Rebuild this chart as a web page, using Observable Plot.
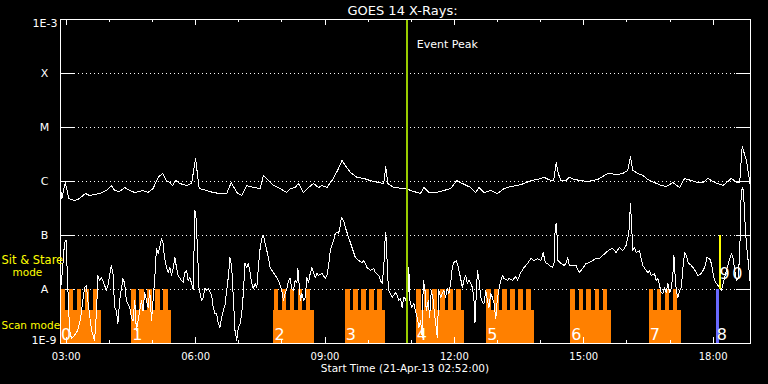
<!DOCTYPE html>
<html>
<head>
<meta charset="utf-8">
<script src="https://cdn.jsdelivr.net/npm/d3@7"></script>
<script src="https://cdn.jsdelivr.net/npm/@observablehq/plot@0.6"></script>
<style>
  html, body { margin: 0; padding: 0; background: #000; }
  #chart { width: 768px; height: 384px; }
</style>
</head>
<body>
<div id="chart"></div>
<script>
// ---------------- data ----------------
const startTime = "2013-04-21T02:52:00Z";
const spanMinutes = 960;
const titleText = "GOES 14 X-Rays:";
const xTitle = "Start Time (21-Apr-13 02:52:00)";
const majorTicks = ["03:00", "06:00", "09:00", "12:00", "15:00", "18:00"];
const minorTicks = ["04:00", "05:00", "07:00", "08:00", "10:00", "11:00", "13:00", "14:00", "16:00", "17:00"];
const classLevels = [1e-8, 1e-7, 1e-6, 1e-5, 1e-4];
const classLabels = ["A", "B", "C", "M", "X"];
const edgeLevels = [1e-3, 1e-9];
const edgeLabels = ["1E-3", "1E-9"];

// GOES long channel (1-8 A), minutes after 02:52 and flux W/m^2
const longT = [0,1.8,6.6,11.6,19.5,24.1,34.9,40.5,54.4,63.8,
70.7,75.3,82.3,89.3,96.3,103.3,114.8,121.8,128.8,135.8,
141.9,147.5,152.1,155.9,160.5,166,175.4,182.4,187.9,193,
203.3,212.5,221.9,231.2,235.8,237.6,245.2,252.1,259.1,268.3,
277.7,282.3,289.3,296.2,303.2,310.2,314.9,319.5,326.5,331.1,
338.1,345.1,352,359,363.8,370.7,377.7,385.5,391.7,396.3,
403.2,412.6,421.8,431.1,442.7,449.7,452.5,455.3,463.6,477.6,
481.4,487,500.9,505.5,512.5,521.8,533.4,542.8,551.1,559.1,
570.7,577.7,582.3,589.2,598.6,607.9,617.1,626.5,635.8,645,
654.4,663.7,673,682.3,686.1,689.7,692.5,696.3,703.3,707.9,
714.8,724.2,733.5,747.5,752.1,761.4,775.4,782.3,789.3,793,
796.3,803.3,810.3,817.2,826.4,835.8,842.8,852.1,861.3,868.3,
877.6,887,894,900.9,910.1,921.8,933.4,940.5,945,948.4,
954.4,959,960];
const longF = [7.41e-7,4.84e-7,9.58e-7,4.84e-7,4.45e-7,4.64e-7,5.99e-7,5.5e-7,5.99e-7,6.81e-7,
8.43e-7,6.81e-7,6.52e-7,7.74e-7,6.81e-7,6.25e-7,6.81e-7,6.25e-7,7.41e-7,1.19e-6,
1.41e-6,1.04e-6,9.58e-7,8.43e-7,1.04e-6,9.18e-7,8.43e-7,9.18e-7,2.67e-6,7.41e-7,
6.81e-7,6.25e-7,5.99e-7,5.99e-7,8.43e-7,9.58e-7,6.25e-7,5.5e-7,8.43e-7,7.74e-7,
7.41e-7,1.29e-6,1.04e-6,8.43e-7,7.74e-7,6.81e-7,6.25e-7,7.41e-7,7.74e-7,9.18e-7,
6.25e-7,7.74e-7,9.18e-7,7.74e-7,8.43e-7,7.74e-7,1.04e-6,1.6e-6,2.45e-6,1.98e-6,
1.47e-6,1.19e-6,1.14e-6,1.04e-6,9.58e-7,9.18e-7,1.9e-6,9.18e-7,7.74e-7,7.41e-7,
7.41e-7,6.81e-7,5.99e-7,7.74e-7,6.25e-7,6.25e-7,6.81e-7,7.41e-7,1.04e-6,9.18e-7,
7.74e-7,6.25e-7,7.74e-7,6.25e-7,6.81e-7,5.99e-7,7.41e-7,8.08e-7,8.43e-7,9.18e-7,
1.04e-6,1.09e-6,1.19e-6,1.04e-6,1.04e-6,2.25e-6,1.41e-6,1.04e-6,1.04e-6,1.19e-6,
1.09e-6,1.04e-6,1e-6,1.09e-6,1.19e-6,1.41e-6,1.35e-6,1.41e-6,1.6e-6,2.9e-6,
1.6e-6,1.41e-6,1.29e-6,1.09e-6,9.58e-7,8.43e-7,8.08e-7,9.58e-7,7.74e-7,1.14e-6,
1.04e-6,9.58e-7,9.58e-7,1.14e-6,9.58e-7,8.43e-7,1.14e-6,9.58e-7,9.58e-7,4.45e-6,
2.45e-6,9.58e-7,7.74e-7];

// GOES short channel (0.5-4 A)
const shortT = [0,2.8,5.6,7.7,10.2,12.6,15.3,19.5,23.7,27.9,
31.1,33.5,35.9,38.1,40.5,43.3,47.4,50.2,52,54.4,
56.8,60,63.8,66,70.7,73,75.3,77.7,79.9,82.3,
86.9,89.3,91.7,96.3,98.6,100.9,103.3,105.6,110.2,112.6,
114.8,117.2,121.8,124.2,126.6,128.8,131.2,133.5,135.8,138.1,
140.5,142.7,144.1,146.1,149.7,152.1,154.5,156.7,159.1,161.4,
163.7,168.4,170.6,173,175.4,177.6,180,182.4,184.6,186,
187,188.4,190.7,192.6,196.3,198.6,200.9,203.3,205.5,210.3,
212.5,214.9,217.3,219.5,221.9,224.2,226.5,228.8,231.2,233.4,
235.8,238.2,240.4,242.8,245.2,247.4,249.8,252.1,254.4,256.7,
259.1,261.3,263.7,266.1,268.3,270.7,273.1,275.3,277.7,280,
282.3,284.7,289.3,291.6,296.2,300.9,303.2,307.9,310.2,312.6,
314.9,317.2,319.5,321.9,324.1,326.5,328.9,330.3,332.1,333.9,
335.8,338.1,340.5,342.8,345.1,347.4,349.8,352,354.4,356.8,
359,363.8,368.4,370.7,373,375.3,380,382.3,384.7,386.9,
389.3,390.7,393.9,396.3,400.9,405.6,410.2,414.8,419.6,421.8,
426.5,431.1,435.7,438.1,442.7,445.1,447.5,449.7,452.1,453.5,
454.9,456.7,459.1,461.4,466,468.4,470.6,473,475.4,477.6,
480,481.4,483.8,484.6,486,488.4,491.5,493.9,496.3,498.6,
500.9,503.3,504.7,506.9,508.9,511.7,513.5,515.9,518.1,520.5,
522.8,524.2,526.5,528.8,531.2,533.4,535.8,538.2,540.4,542.8,
545.1,547.4,550.8,553.5,556.7,559.1,561.3,563.7,566.1,568.3,
570.7,573.1,575.3,576.7,578.7,580.1,582.3,584.7,587,589.2,
591.6,594,596.2,598.6,601,603.2,605.6,608,610.2,612.5,
614.9,617.1,621.9,624.1,628.9,633.5,635.8,640.4,645,649.8,
654.4,659,663.7,668.3,671.6,674.4,677.7,679.9,684.7,686.9,
688.3,690.2,692.1,696.3,700.9,703.3,705.6,707.9,712.6,717.2,
721.8,726.5,731.1,735.7,740.4,745.1,749.7,754.4,759,763.7,
768.4,773,777.6,782.3,786.9,790.7,793,794.4,796.3,798.6,
801,805.5,807.9,810.3,814.9,817.2,819.6,821.9,826.5,828.8,
831.2,833.4,835.8,838.2,840.4,842.8,845.1,847.4,849.8,852.1,
853.5,854.9,856.7,859.1,861.3,863.7,866.1,868.3,870.7,873.1,
877.6,880,884.6,887,891.6,896.2,899.5,903.2,905.5,907.9,
910.1,912.5,914.9,917.1,919.5,921.9,926.5,931.1,933.4,935.8,
938.1,940.5,942.8,945,946.7,948.4,950.2,952,954.4,956.7,
959,960];
const shortF = [9.58e-9,2.25e-8,7.41e-8,8.08e-8,1.09e-8,1.74e-9,1.24e-9,1.41e-9,1.74e-9,2.9e-9,
6.25e-9,1.09e-8,1.19e-8,6.25e-9,3.3e-9,1.74e-9,1.14e-9,4.08e-9,1.82e-8,1.47e-8,
1.67e-8,1.35e-8,9.58e-9,1.19e-8,2.78e-8,1.98e-8,4.64e-9,4.08e-9,2.34e-9,6.25e-9,
1.6e-8,1.29e-8,6.25e-9,4.64e-9,3.03e-9,2.67e-9,6.25e-9,1.74e-9,4.08e-9,6.25e-9,
4.08e-9,8.8e-9,4.64e-9,9.58e-9,2.67e-9,6.25e-9,1.67e-8,5.74e-8,4.64e-8,5.99e-8,
8.8e-8,7.11e-8,4.64e-8,3.03e-8,2.06e-8,2.56e-8,1.82e-8,2.45e-8,3.91e-8,2.56e-8,
1.82e-8,1.47e-8,1.35e-8,2.06e-8,2.25e-8,1.47e-8,1.67e-8,1.29e-8,1e-8,7.11e-8,
2.9e-7,2.34e-7,5.27e-8,1.09e-8,6.25e-9,7.11e-9,1.04e-8,9.58e-9,1.04e-8,7.74e-9,
4.64e-9,3.59e-9,3.59e-9,2.34e-9,1.98e-9,3.03e-9,4.08e-9,5.05e-9,9.58e-9,1.67e-8,
3.91e-8,2.56e-8,7.11e-9,1.74e-9,1.14e-9,1.98e-9,2.34e-9,3.59e-9,8.43e-9,3.03e-8,
2.56e-8,3.03e-8,2.06e-8,1.29e-8,1.04e-8,1.29e-8,1.09e-8,2.56e-8,5.74e-8,8.8e-8,
1e-7,7.11e-8,3.91e-8,2.56e-8,2.06e-8,1.67e-8,1.47e-8,9.58e-9,6.25e-9,8.43e-9,
1.04e-8,1.47e-8,1.6e-8,1.04e-8,9.58e-9,1.47e-8,1.35e-8,2.45e-8,1.19e-8,6.25e-9,
8.43e-9,6.25e-9,7.11e-9,1.67e-8,1.35e-8,1.98e-8,2.56e-8,2.06e-8,1.67e-8,1.98e-8,
1.82e-8,1.98e-8,1.6e-8,1.82e-8,2.78e-8,5.27e-8,8.08e-8,1.09e-7,1.14e-7,1.09e-7,
1.53e-7,2.15e-7,1.9e-7,1.41e-7,9.18e-8,5.99e-8,3.91e-8,3.44e-8,3.16e-8,3.44e-8,
2.56e-8,2.25e-8,2.45e-8,2.06e-8,1.82e-8,1.47e-8,1.29e-8,2.56e-8,1.14e-7,8.08e-8,
1.98e-8,9.58e-9,8.43e-9,7.11e-9,8.8e-9,7.74e-9,6.25e-9,6.81e-9,4.64e-9,7.11e-9,
6.81e-9,5.74e-9,9.58e-9,2.56e-8,6.25e-9,4.64e-9,5.5e-9,4.08e-9,3.03e-9,1.98e-9,
2.67e-9,1.29e-9,1.47e-8,1.09e-8,4.08e-9,6.25e-9,3.03e-9,9.58e-9,7.11e-9,3.3e-9,
1.98e-9,1.29e-9,9.58e-9,7.11e-9,8.43e-9,9.58e-9,7.11e-9,1.04e-8,8.43e-9,1.29e-8,
2.56e-8,3.16e-8,3.44e-8,2.56e-8,1.6e-8,1.09e-8,1.47e-8,1.82e-8,1.29e-8,1.47e-8,
1.29e-8,1.09e-8,6.25e-9,2.45e-9,9.58e-9,2.25e-8,1.47e-8,7.11e-9,5.74e-9,5.5e-9,
9.58e-9,6.25e-9,4.64e-9,8.43e-9,7.11e-9,5.5e-9,2.9e-9,7.11e-9,1.04e-8,1.47e-8,
1.82e-8,1.6e-8,1.47e-8,1.6e-8,1.47e-8,1.74e-8,1.47e-8,2.06e-8,2.56e-8,3.03e-8,
3.75e-8,3.44e-8,3.75e-8,3.44e-8,4.84e-8,3.16e-8,3.03e-8,2.78e-8,2.56e-8,3.16e-8,
1.53e-7,1.67e-7,3.44e-8,3.03e-8,2.78e-8,3.03e-8,3.91e-8,2.78e-8,2.78e-8,2.78e-8,
2.06e-8,2.45e-8,3.03e-8,3.16e-8,3.44e-8,3.75e-8,3.75e-8,4.26e-8,4.84e-8,5.5e-8,
5.74e-8,4.84e-8,5.99e-8,5.27e-8,6.52e-8,1.09e-7,3.91e-7,1.67e-7,5.27e-8,5.99e-8,
4.84e-8,5.27e-8,3.75e-8,2.78e-8,2.25e-8,2.06e-8,2.25e-8,1.82e-8,1.98e-8,1.47e-8,
1.6e-8,1.19e-8,8.8e-9,8.43e-9,1.09e-8,8.8e-9,1.29e-8,8.8e-9,1.04e-8,1.98e-8,
4.26e-8,1.98e-8,9.58e-9,7.11e-9,9.58e-9,1.09e-8,2.56e-8,4.84e-8,4.26e-8,3.16e-8,
2.78e-8,2.56e-8,2.06e-8,1.82e-8,1.98e-8,2.56e-8,3.91e-8,3.75e-8,3.03e-8,1.98e-8,
1.47e-8,1.29e-8,1.19e-8,1.04e-8,9.58e-9,1.29e-8,2.25e-8,3.75e-8,4.64e-8,3.75e-8,
2.25e-8,1.47e-8,1.6e-8,4.64e-8,4.45e-7,7.74e-7,6.81e-7,2.15e-7,6.52e-8,3.44e-8,
1.67e-8,1.09e-8];

// Scan-mode blocks (minutes after 02:52)
const scanStart = [0, 99, 297, 396, 495, 593, 710, 819];
const scanEnd = [57, 155, 353, 452, 562, 660, 766, 864];
const scanLabel = ["0", "1", "2", "3", "4", "5", "6", "7"];
const scanTop = 4.1e-9;
// Sit & stare teeth within each block
const toothStart = [0.5, 12, 23.2, 34.4, 45.5,
  99.1, 110.3, 121.4, 132.6, 143.8,
  297.2, 308.4, 319.5, 330.7, 341.8,
  396.3, 407.5, 418.6, 429.8, 441,
  495.3, 506.5, 517.6, 528.8, 539.9, 551.1,
  593, 604.2, 615.4, 626.5, 637.7, 648.8,
  710.2, 721.4, 732.5, 743.7, 754.8,
  819, 830.2, 841.3, 852.5];
const toothMinutes = 6.6;
const stareTop = 1e-8;
// Single events
const scanEvent = { start: 912.5, end: 916.7, label: "8", low: 1e-9, high: 1e-8 };
const stareEvent = { start: 916.7, end: 919.6, low: 1e-8, high: 1e-7 };
const stareLabels = [{ m: 916.7, text: "9" }, { m: 934.5, text: "0" }];
const eventPeak = 482.4;
const eventLabel = "Event Peak";

// ---------------- build ----------------
const t0 = new Date(startTime).getTime();
const at = m => new Date(t0 + m * 60000);
const clock = s => new Date(`2013-04-21T${s}:00Z`);
const longData = longT.map((m, i) => ({ t: at(m), f: longF[i] }));
const shortData = shortT.map((m, i) => ({ t: at(m), f: shortF[i] }));
const blocks = scanStart.map((s, i) => ({ s, e: scanEnd[i], label: scanLabel[i] }));
const major = majorTicks.map(clock);
const minor = minorTicks.map(clock);

const W = 768, H = 384;
const mL = 60, mR = 18, mT = 19, mB = 41;
const frameH = H - mT - mB, frameW = W - mL - mR;
const font = "DejaVu Sans, sans-serif";
const crisp = "crispEdges";

const plot = Plot.plot({
  width: W, height: H,
  marginLeft: mL, marginRight: mR, marginTop: mT, marginBottom: mB,
  style: { background: "#000", color: "#fff", fontFamily: font, fontSize: "11px" },
  x: { type: "utc", domain: [at(0), at(spanMinutes)], axis: null },
  y: { type: "log", domain: [1e-9, 1e-3], axis: null },
  marks: [
    // dotted class grid
    Plot.ruleY(classLevels, { y: d => d, stroke: "#fff", strokeDasharray: "1,3", insetLeft: 14, insetRight: 14, shapeRendering: crisp }),
    // y ticks left & right
    Plot.ruleY(classLevels, { y: d => d, stroke: "#fff", insetRight: frameW - 14, shapeRendering: crisp }),
    Plot.ruleY(classLevels, { y: d => d, stroke: "#fff", insetLeft: frameW - 14, shapeRendering: crisp }),
    // scan mode blocks
    Plot.rect(blocks, { x1: d => at(d.s), x2: d => at(d.e), y1: () => 1e-9, y2: () => scanTop, fill: "#ff8000", shapeRendering: crisp }),
    Plot.rect(toothStart, { x1: d => at(d), x2: d => at(d + toothMinutes), y1: () => 1e-9, y2: () => stareTop, fill: "#ff8000", shapeRendering: crisp }),
    // curves
    Plot.line(longData, { x: "t", y: "f", stroke: "#fff", strokeWidth: 1, shapeRendering: crisp }),
    Plot.line(shortData, { x: "t", y: "f", stroke: "#fff", strokeWidth: 1, shapeRendering: crisp }),
    // events
    Plot.rect([scanEvent], { x1: d => at(d.start), x2: d => at(d.end), y1: d => d.low, y2: d => d.high, fill: "#6a6aff", shapeRendering: crisp }),
    Plot.rect([stareEvent], { x1: d => at(d.start), x2: d => at(d.end), y1: d => d.low, y2: d => d.high, fill: "#ffff00", shapeRendering: crisp }),
    Plot.ruleX([eventPeak], { x: d => at(d), stroke: "#99cc00", strokeWidth: 2.5, shapeRendering: crisp }),
    // frame
    Plot.frame({ stroke: "#fff", shapeRendering: crisp }),
    // x ticks (top and bottom, inward)
    Plot.ruleX(major, { x: d => d, stroke: "#fff", insetBottom: frameH - 6, shapeRendering: crisp }),
    Plot.ruleX(major, { x: d => d, stroke: "#fff", insetTop: frameH - 6, shapeRendering: crisp }),
    Plot.ruleX(minor, { x: d => d, stroke: "#fff", insetBottom: frameH - 3, shapeRendering: crisp }),
    Plot.ruleX(minor, { x: d => d, stroke: "#fff", insetTop: frameH - 3, shapeRendering: crisp }),
    // x tick labels
    Plot.text(major, { x: d => d, text: (d, i) => majorTicks[i], frameAnchor: "bottom", lineAnchor: "bottom", dy: 16, fontSize: 10, fill: "#fff" }),
    Plot.text([xTitle], { text: d => d, frameAnchor: "bottom", lineAnchor: "bottom", dy: 28.5, dx: -0.5, fontSize: 10.5, fill: "#fff" }),
    // title
    Plot.text([titleText], { text: d => d, frameAnchor: "top", lineAnchor: "bottom", dy: -5, dx: -3, fontSize: 13, fill: "#fff" }),
    // y labels
    Plot.text(classLevels, { y: d => d, text: (d, i) => classLabels[i], frameAnchor: "left", dx: -16, textAnchor: "middle", fontSize: 11, fill: "#fff" }),
    Plot.text([edgeLevels[0]], { y: d => d, text: () => edgeLabels[0], frameAnchor: "left", dx: -3, dy: 4, textAnchor: "end", fontSize: 11, fill: "#fff" }),
    Plot.text([edgeLevels[1]], { y: d => d, text: () => edgeLabels[1], frameAnchor: "left", dx: -4, dy: -3, textAnchor: "end", fontSize: 11, fill: "#fff" }),
    // legend labels (yellow)
    Plot.text(["Sit & Stare"], { text: d => d, frameAnchor: "bottom-left", textAnchor: "start", lineAnchor: "bottom", dx: -59, dy: -80, fontSize: 11.5, fill: "#ffff00" }),
    Plot.text(["mode"], { text: d => d, frameAnchor: "bottom-left", textAnchor: "start", lineAnchor: "bottom", dx: -48, dy: -68, fontSize: 10.5, fill: "#ffff00" }),
    Plot.text(["Scan mode"], { text: d => d, frameAnchor: "bottom-left", textAnchor: "start", lineAnchor: "bottom", dx: -59, dy: -15, fontSize: 10.5, fill: "#ffff00" }),
    // event label
    Plot.text([eventPeak], { x: d => at(d), text: () => eventLabel, frameAnchor: "top", textAnchor: "start", lineAnchor: "bottom", dx: 9.5, dy: 28.3, fontSize: 11, fill: "#fff" }),
    // block numbers
    Plot.text(blocks, { x: d => at(d.s), text: "label", frameAnchor: "bottom", textAnchor: "start", lineAnchor: "bottom", dx: 0.5, dy: -3.7, fontSize: 16, fill: "#fff" }),
    Plot.text([scanEvent], { x: d => at(d.start), text: "label", frameAnchor: "bottom", textAnchor: "start", lineAnchor: "bottom", dx: 0.5, dy: -3.7, fontSize: 16, fill: "#fff" }),
    Plot.text(stareLabels, { x: d => at(d.m), y: () => stareTop, text: "text", textAnchor: "start", lineAnchor: "bottom", dx: 0, dy: -10.7, fontSize: 16, fill: "#fff" })
  ]
});
document.getElementById("chart").append(plot);
</script>
</body>
</html>
